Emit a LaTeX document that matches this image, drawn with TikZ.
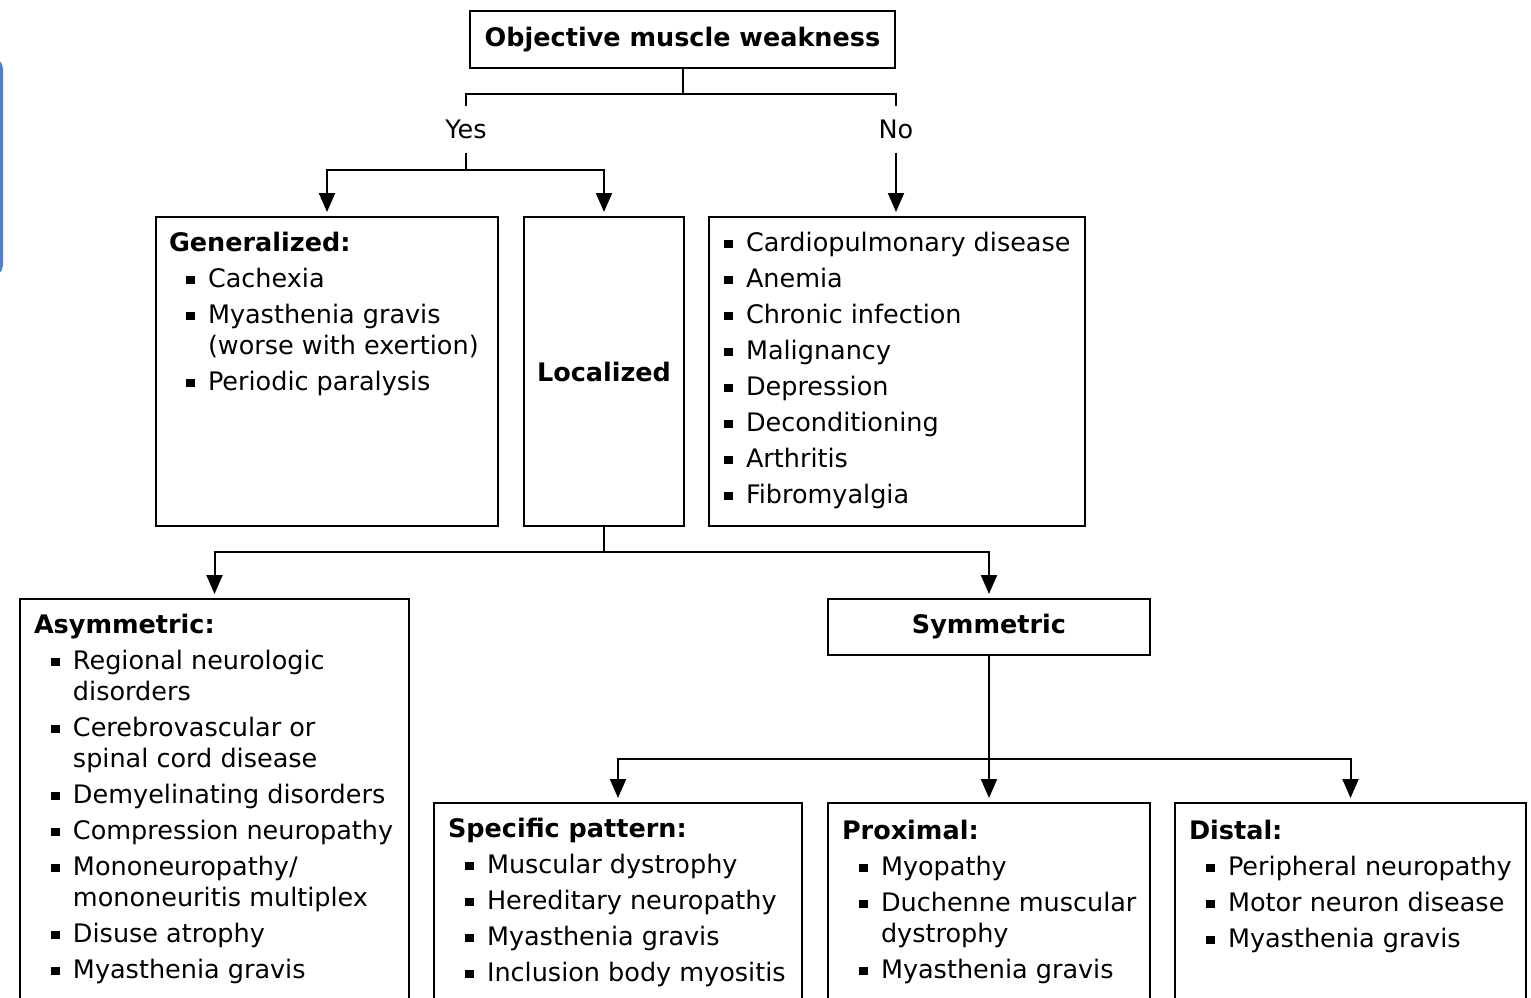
\documentclass[tikz,border=0pt]{standalone}
\usepackage{fontspec}
\setmainfont{DejaVu Sans}
\usetikzlibrary{arrows.meta}

\definecolor{sideblue}{RGB}{74,128,214}
\newcommand{\sq}{\makebox[22pt][l]{\raisebox{3.5pt}{\rule{9pt}{8.5pt}}}}
\newcommand{\itm}{\hspace*{17pt}\sq}
\newcommand{\ind}{\hspace*{39pt}}
\newcommand{\gap}{\\[5pt]}

\begin{document}
\begin{tikzpicture}[x = 1pt , y = -1pt , line width = 2pt ,
    every node/.style = {font = \fontsize{25.5}{31}\selectfont},
    box/.style = {draw , inner sep = 0pt , anchor = north west},
    lst/.style = {anchor = north west , inner sep = 0pt , align = left},
    lbl/.style = {inner sep = 0pt , minimum height = 45pt},
    arr/.style = {-{Triangle[width = 16pt , length = 19pt]} , shorten > = 4pt}]
    \useasboundingbox (0,0) rectangle (1531,997);
    \clip (0,0) rectangle (1531,997);
    \fill[sideblue , rounded corners = 12pt] (-30,57) rectangle (3,277); % side tab

    % boxes
    \node[box , minimum width = 425pt , minimum height = 57pt] (top) at (469,10) {\textbf{Objective muscle weakness}};
    \node[lbl] (yes) at (466,129) {Yes};
    \node[lbl] (no) at (896,129) {No};
    \node[box , minimum width = 342pt , minimum height = 309pt] (gen) at (155,216) {};
    \node[box , minimum width = 160pt , minimum height = 309pt] (loc) at (523,216) {\textbf{Localized}};
    \node[box , minimum width = 376pt , minimum height = 309pt] (other) at (708,216) {};
    \node[box , minimum width = 389pt , minimum height = 450pt] (asym) at (19,598) {};
    \node[box , minimum width = 322pt , minimum height = 56pt] (sym) at (827,598) {\textbf{Symmetric}};
    \node[box , minimum width = 368pt , minimum height = 250pt] (spec) at (433,802) {};
    \node[box , minimum width = 322pt , minimum height = 250pt] (prox) at (827,802) {};
    \node[box , minimum width = 351pt , minimum height = 250pt] (dist) at (1174,802) {};

    % lists
    \node[lst] (gen-t) at ([shift = {(13,13)}]gen.north west) {\strut\textbf{Generalized:}\gap
        \itm Cachexia\gap \itm Myasthenia gravis\\ \ind (worse with exertion)\gap \itm Periodic paralysis};
    \node[lst] (other-t) at ([shift = {(15,13)}]other.north west) {\strut\sq Cardiopulmonary disease\gap
        \sq Anemia\gap \sq Chronic infection\gap \sq Malignancy\gap \sq Depression\gap
        \sq Deconditioning\gap \sq Arthritis\gap \sq Fibromyalgia};
    \node[lst] (asym-t) at ([shift = {(14,13)}]asym.north west) {\strut\textbf{Asymmetric:}\gap
        \itm Regional neurologic\\ \ind disorders\gap \itm Cerebrovascular or\\ \ind spinal cord disease\gap
        \itm Demyelinating disorders\gap \itm Compression neuropathy\gap
        \itm Mononeuropathy/\\ \ind mononeuritis multiplex\gap \itm Disuse atrophy\gap \itm Myasthenia gravis};
    \node[lst] (spec-t) at ([shift = {(14,13)}]spec.north west) {\strut\textbf{Specific pattern:}\gap
        \itm Muscular dystrophy\gap \itm Hereditary neuropathy\gap \itm Myasthenia gravis\gap
        \itm Inclusion body myositis};
    \node[lst] (prox-t) at ([shift = {(14,15)}]prox.north west) {\strut\textbf{Proximal:}\gap
        \itm Myopathy\gap \itm Duchenne muscular\\ \ind dystrophy\gap \itm Myasthenia gravis};
    \node[lst] (dist-t) at ([shift = {(14,15)}]dist.north west) {\strut\textbf{Distal:}\gap
        \itm Peripheral neuropathy\gap \itm Motor neuron disease\gap \itm Myasthenia gravis};

    % connectors
    \draw (top.south) -- ++(0,25) -| (yes.north);
    \draw (top.south) -- ++(0,25) -| (no.north);
    \draw[arr] (yes.south) -- ++(0,17) -| (gen.north);
    \draw[arr] (yes.south) -- ++(0,17) -| (loc.north);
    \draw[arr] (no.south) -- (no.south |- other.north);
    \draw[arr] (loc.south) -- ++(0,25) -| (asym.north);
    \draw[arr] (loc.south) -- ++(0,25) -| (sym.north);
    \draw[arr] (sym.south) -- (prox.north);
    \draw[arr] (sym.south) -- ++(0,103) -| (spec.north);
    \draw[arr] (sym.south) -- ++(0,103) -| (dist.north);
\end{tikzpicture}
\end{document}
